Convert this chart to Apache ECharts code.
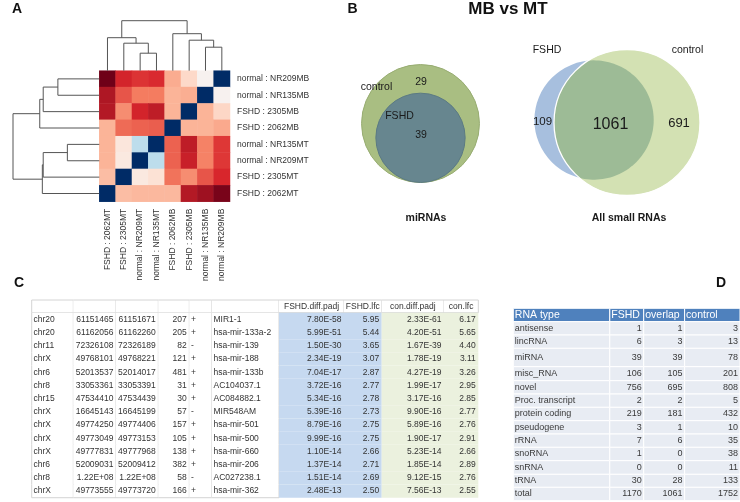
<!DOCTYPE html>
<html><head><meta charset="utf-8">
<script src="https://cdn.jsdelivr.net/npm/echarts@6/dist/echarts.min.js"></script>
<style>html,body{margin:0;padding:0;background:#fff}#c{width:740px;height:502px}</style>
</head><body><div id="c"></div>
<script>
// ================= DATA =================
// Panel A: heatmap
const heatCols = ['FSHD : 2062MT','FSHD : 2305MT','normal : NR209MT','normal : NR135MT','FSHD : 2062MB','FSHD : 2305MB','normal : NR135MB','normal : NR209MB'];
const heatRows = ['normal : NR209MB','normal : NR135MB','FSHD : 2305MB','FSHD : 2062MB','normal : NR135MT','normal : NR209MT','FSHD : 2305MT','FSHD : 2062MT'];
const heatValues = [
  [1.00, 0.905, 0.885, 0.895, 0.715, 0.615, 0.51, 0.00],
  [0.94, 0.845, 0.80, 0.80, 0.70, 0.71, 0.00, 0.51],
  [0.935, 0.77, 0.905, 0.925, 0.70, 0.00, 0.70, 0.62],
  [0.70, 0.82, 0.83, 0.835, 0.00, 0.70, 0.70, 0.72],
  [0.70, 0.57, 0.39, 0.00, 0.83, 0.925, 0.79, 0.88],
  [0.70, 0.555, 0.00, 0.39, 0.83, 0.915, 0.79, 0.88],
  [0.68, 0.00, 0.555, 0.59, 0.81, 0.77, 0.845, 0.90],
  [0.00, 0.68, 0.69, 0.69, 0.69, 0.935, 0.955, 0.99]
];
// dendrograms (hclust style merges: negative = leaf, positive = earlier merge)
const topMerge = [[-3,-4],[-2,1],[-1,2],[-7,-8],[-6,4],[-5,5],[3,6]];
const topHeights = [0.35, 0.55, 0.66, 0.47, 0.61, 0.74, 1.0];
const leftMerge = [[-1,-2],[-3,1],[-4,2],[-5,-6],[-7,4],[-8,5],[3,6]];
const leftHeights = [0.48, 0.65, 0.69, 0.37, 0.65, 0.66, 1.0];

// Panel B: venn counts
const vennNames = ['miRNAs', 'All small RNAs'];
const vennFshdOnly = [0, 109];
const vennBoth = [39, 1061];
const vennControlOnly = [29, 691];

// Panel C: table
const headerC = ['', '', '', '', '', '', 'FSHD.diff.padj', 'FSHD.lfc', 'con.diff.padj', 'con.lfc'];
const chromC = ['chr20','chr20','chr11','chrX','chr6','chr8','chr15','chrX','chrX','chrX','chrX','chr6','chr8','chrX'];
const startC = ['61151465','61162056','72326108','49768101','52013537','33053361','47534410','16645143','49774250','49773049','49777831','52009031','1.22E+08','49773555'];
const endC = ['61151671','61162260','72326189','49768221','52014017','33053391','47534439','16645199','49774406','49773153','49777968','52009412','1.22E+08','49773720'];
const lenC = ['207','205','82','121','481','31','30','57','157','105','138','382','58','166'];
const strandC = ['+','+','-','+','+','+','+','-','+','+','+','+','-','+'];
const nameC = ['MIR1-1','hsa-mir-133a-2','hsa-mir-139','hsa-mir-188','hsa-mir-133b','AC104037.1','AC084882.1','MIR548AM','hsa-mir-501','hsa-mir-500','hsa-mir-660','hsa-mir-206','AC027238.1','hsa-mir-362'];
const fshdPadjC = ['7.80E-58','5.99E-51','1.50E-30','2.34E-19','7.04E-17','3.72E-16','5.34E-16','5.39E-16','8.79E-16','9.99E-16','1.10E-14','1.37E-14','1.51E-14','2.48E-13'];
const fshdLfcC = ['5.95','5.44','3.65','3.07','2.87','2.77','2.78','2.73','2.75','2.75','2.66','2.71','2.69','2.50'];
const conPadjC = ['2.33E-61','4.20E-51','1.67E-39','1.78E-19','4.27E-19','1.99E-17','3.17E-16','9.90E-16','5.89E-16','1.90E-17','5.23E-14','1.85E-14','9.12E-15','7.56E-13'];
const conLfcC = ['6.17','5.65','4.40','3.11','3.26','2.95','2.85','2.77','2.76','2.91','2.66','2.89','2.76','2.55'];

// Panel D: table
const headerD = ['RNA type', 'FSHD', 'overlap', 'control'];
const rnaTypes = ['antisense','lincRNA','miRNA','misc_RNA','novel','Proc. transcript','protein coding','pseudogene','rRNA','snoRNA','snRNA','tRNA','total'];
const fshdCounts = [1, 6, 39, 106, 756, 2, 219, 3, 7, 1, 0, 30, 1170];
const overlapCounts = [1, 3, 39, 105, 695, 2, 181, 1, 6, 0, 0, 28, 1061];
const controlCounts = [3, 13, 78, 201, 808, 5, 432, 10, 35, 38, 11, 133, 1752];

// ================= LAYOUT / STYLE =================
const FONT = '"Liberation Sans", Arial, Helvetica, sans-serif';
const heatColors = ['#002b66','#1c4f8f','#4f86bd','#8ec0dc','#c2e0ee','#f6f3f2','#fde0d2','#fbb498','#f47c60','#d8262c','#6f0018'];

const colEdgesC = [0, 41.6, 84.3, 126.6, 157.6, 180, 247.3, 312.3, 350, 412.3, 446.6];
const alignC = ['left','right','right','right','left','left','right','right','right','right'];
const headRowC = 12.7, rowHC = 13.215;
const rowEdgesC = [0]; for (let i = 0; i <= chromC.length; i++) rowEdgesC.push(headRowC + i * rowHC);

const colEdgesD = [0, 96.7, 130.7, 171.7, 227.2];
const rowHeightsD = [13.4, 13.3, 13.3, 18.4, 14, 13.3, 13.3, 13.4, 13.3, 13.3, 13.4, 13.6, 13, 13.4];
const rowEdgesD = [0]; rowHeightsD.forEach(h => rowEdgesD.push(rowEdgesD[rowEdgesD.length - 1] + h));

const vennLayout = [
  { grid: {left: 349, top: 52, width: 143, height: 143}, half: 10, shift: null,
    ctrlFill: '#a9be82', ctrlStroke: '#98ad72', fshdFill: '#67868f', fshdStroke: '#5b7a83', lensFill: null,
    labels: [
      {t: 'control', p: [-44, -36], s: 10.5},
      {t: 'FSHD', p: [-21, -7.5], s: 10.5},
      {k: 'cOnly', p: [0.5, -41.5], s: 10.5},
      {k: 'both', p: [0.5, 11.5], s: 10.5},
      {t: 'cap', p: [5.5, 94.5], s: 10.5, bold: true}
    ]},
  { grid: {left: 539.8, top: 35.3, width: 174.4, height: 174.4}, half: 50, shift: [-18.9, 1.43],
    ctrlFill: '#d3e1b3', ctrlStroke: '#ffffff', fshdFill: '#a7bfde', fshdStroke: null, lensFill: '#9dbb96',
    labels: [
      {t: 'FSHD', p: [-80, -72.5], s: 10.5},
      {t: 'control', p: [60.5, -72.5], s: 10.5},
      {k: 'fOnly', p: [-84.5, -0.5], s: 11.5},
      {k: 'both', p: [-16.5, 2.5], s: 16},
      {k: 'cOnly', p: [52, 0.5], s: 13},
      {t: 'cap', p: [2, 95.5], s: 10.5, bold: true}
    ]}
];

// ================= HELPERS =================
function dendroSegments(merge, heights, horizontal) {
  const pos = [], segs = [];
  merge.forEach((m, k) => {
    const xy = m.map(c => c < 0 ? [-c - 0.5, 0] : [pos[c - 1], heights[c - 1]]);
    const h = heights[k];
    const pts = [[xy[0][0], xy[0][1]], [xy[0][0], h], [xy[1][0], h], [xy[1][0], xy[1][1]]];
    pos.push((xy[0][0] + xy[1][0]) / 2);
    segs.push({coords: horizontal ? pts.map(p => [p[1], p[0]]) : pts});
  });
  return segs;
}

function txt(text, x, y, size, opts) {
  opts = opts || {};
  return {
    type: 'text', x: 0, y: 0, silent: true,
    style: {
      text: text, x: x, y: y, fill: opts.fill || '#222',
      fontSize: size, fontFamily: FONT, fontWeight: opts.bold ? 'bold' : 'normal',
      align: opts.align || 'center', verticalAlign: 'middle',
      textAlign: opts.align || 'center', textVerticalAlign: 'middle'
    }
  };
}

function lensPoints(c1, r1, c2, r2) {
  const dx = c2[0] - c1[0], dy = c2[1] - c1[1];
  const d = Math.sqrt(dx * dx + dy * dy);
  const a = (r1 * r1 - r2 * r2 + d * d) / (2 * d);
  const a1 = Math.acos(Math.max(-1, Math.min(1, a / r1)));
  const a2 = Math.acos(Math.max(-1, Math.min(1, (d - a) / r2)));
  const t12 = Math.atan2(dy, dx), t21 = Math.atan2(-dy, -dx);
  const pts = [], N = 80;
  for (let i = 0; i <= N; i++) { const t = t12 - a1 + 2 * a1 * i / N; pts.push([c1[0] + r1 * Math.cos(t), c1[1] + r1 * Math.sin(t)]); }
  for (let i = 0; i <= N; i++) { const t = t21 - a2 + 2 * a2 * i / N; pts.push([c2[0] + r2 * Math.cos(t), c2[1] + r2 * Math.sin(t)]); }
  return pts;
}

function vennRenderer(i) {
  return function (params, api) {
    const L = vennLayout[i];
    const counts = {fOnly: vennFshdOnly[i], both: vennBoth[i], cOnly: vennControlOnly[i]};
    const rcU = Math.sqrt(counts.both + counts.cOnly), rfU = Math.sqrt(counts.both + counts.fOnly);
    const cc = api.coord([0, 0]);
    const fU = L.shift ? L.shift : [0, -(rcU - rfU)];
    const fc = api.coord(fU);
    const rc = api.size([rcU, 0])[0], rf = api.size([rfU, 0])[0];
    const ch = [];
    if (L.lensFill) {
      ch.push({type: 'circle', shape: {cx: fc[0], cy: fc[1], r: rf}, style: {fill: L.fshdFill}});
      ch.push({type: 'circle', shape: {cx: cc[0], cy: cc[1], r: rc}, style: {fill: L.ctrlFill}});
      ch.push({type: 'polygon', shape: {points: lensPoints(cc, rc, fc, rf)}, style: {fill: L.lensFill}});
      ch.push({type: 'circle', shape: {cx: cc[0], cy: cc[1], r: rc}, style: {fill: 'none', stroke: L.ctrlStroke, lineWidth: 1.3}});
    } else {
      ch.push({type: 'circle', shape: {cx: cc[0], cy: cc[1], r: rc}, style: {fill: L.ctrlFill, stroke: L.ctrlStroke, lineWidth: 1}});
      ch.push({type: 'circle', shape: {cx: fc[0], cy: fc[1], r: rf}, style: {fill: L.fshdFill, stroke: L.fshdStroke, lineWidth: 1}});
    }
    L.labels.forEach(lb => {
      let t = lb.t;
      if (lb.k) t = String(counts[lb.k]);
      if (t === 'cap') t = vennNames[i];
      ch.push(txt(t, cc[0] + lb.p[0], cc[1] + lb.p[1], lb.s, {bold: lb.bold, fill: '#1a1a1a'}));
    });
    return {type: 'group', children: ch};
  };
}

const colsC = [chromC, startC, endC, lenC, strandC, nameC, fshdPadjC, fshdLfcC, conPadjC, conLfcC];
function renderTableC(params, api) {
  const c = api.value(0), r = api.value(1);
  const p0 = api.coord([colEdgesC[c], rowEdgesC[r]]);
  const p1 = api.coord([colEdgesC[c + 1], rowEdgesC[r + 1]]);
  const ch = [];
  let bg = '#ffffff';
  if (r > 0 && (c === 6 || c === 7)) bg = '#c6d9f0';
  if (r > 0 && (c === 8 || c === 9)) bg = '#ebf1de';
  ch.push({type: 'rect', shape: {x: p0[0], y: p0[1], width: p1[0] - p0[0], height: p1[1] - p0[1]}, style: {fill: bg}});
  const lc = '#d4d4d4';
  if (c === 0) ch.push({type: 'line', shape: {x1: p0[0], y1: p0[1], x2: p0[0], y2: p1[1]}, style: {stroke: lc, lineWidth: 1}});
  if (r === 0 || c <= 5) ch.push({type: 'line', shape: {x1: p1[0], y1: p0[1], x2: p1[0], y2: p1[1]}, style: {stroke: lc, lineWidth: 1}});
  if (r === 0) {
    ch.push({type: 'line', shape: {x1: p0[0], y1: p0[1], x2: p1[0], y2: p0[1]}, style: {stroke: lc, lineWidth: 1}});
    ch.push({type: 'line', shape: {x1: p0[0], y1: p1[1], x2: p1[0], y2: p1[1]}, style: {stroke: lc, lineWidth: 1}});
  }
  if (r === chromC.length && c <= 5) ch.push({type: 'line', shape: {x1: p0[0], y1: p1[1], x2: p1[0], y2: p1[1]}, style: {stroke: lc, lineWidth: 1}});
  const t = r === 0 ? headerC[c] : colsC[c][r - 1];
  if (t) {
    const ym = (p0[1] + p1[1]) / 2;
    if (r === 0) ch.push(txt(t, (p0[0] + p1[0]) / 2, ym, 8.5, {fill: '#333'}));
    else if (alignC[c] === 'left') ch.push(txt(t, p0[0] + 1.8, ym, 8.5, {align: 'left', fill: '#333'}));
    else ch.push(txt(t, p1[0] - 2.5, ym, 8.5, {align: 'right', fill: '#333'}));
  }
  return {type: 'group', children: ch};
}

const colsD = [rnaTypes, fshdCounts, overlapCounts, controlCounts];
function renderTableD(params, api) {
  const c = api.value(0), r = api.value(1);
  const p0 = api.coord([colEdgesD[c], rowEdgesD[r]]);
  const p1 = api.coord([colEdgesD[c + 1], rowEdgesD[r + 1]]);
  const ch = [];
  const bg = r === 0 ? '#4f81bd' : '#e8ecf3';
  ch.push({type: 'rect', shape: {x: p0[0], y: p0[1], width: p1[0] - p0[0], height: p1[1] - p0[1]}, style: {fill: bg, stroke: '#ffffff', lineWidth: 1}});
  const ym = (p0[1] + p1[1]) / 2;
  if (r === 0) ch.push(txt(headerD[c], p0[0] + 1.5, ym + 0.5, 10.5, {align: 'left', fill: '#ffffff'}));
  else {
    const v = String(colsD[c][r - 1]);
    if (c === 0) ch.push(txt(v, p0[0] + 1.5, ym, 9, {align: 'left', fill: '#3a3a3a'}));
    else ch.push(txt(v, p1[0] - 2, ym, 9, {align: 'right', fill: '#3a3a3a'}));
  }
  return {type: 'group', children: ch};
}

// ================= OPTION =================
const heatData = [];
heatValues.forEach((row, r) => row.forEach((v, c) => heatData.push([c, r, v])));
const tableCData = [];
for (let r = 0; r <= chromC.length; r++) for (let c = 0; c < headerC.length; c++) tableCData.push([c, r]);
const tableDData = [];
for (let r = 0; r <= rnaTypes.length; r++) for (let c = 0; c < headerD.length; c++) tableDData.push([c, r]);

const hidden = {show: false};
function valAxis(gi, min, max, inverse) {
  return {type: 'value', gridIndex: gi, min: min, max: max, inverse: !!inverse, show: false, splitLine: hidden, axisLine: hidden, axisTick: hidden, axisLabel: hidden};
}

const option = {
  animation: false,
  backgroundColor: '#ffffff',
  textStyle: {fontFamily: FONT},
  grid: [
    {left: 99.3, top: 70.7, width: 130.7, height: 131},                 // 0 heatmap
    {left: 99.3, top: 20.7, width: 130.7, height: 50},                  // 1 top dendrogram
    {left: 13, top: 70.7, width: 86.3, height: 131},                    // 2 left dendrogram
    vennLayout[0].grid,                                                  // 3 venn miRNA
    vennLayout[1].grid,                                                  // 4 venn all
    {left: 31.7, top: 300, width: 446.6, height: rowEdgesC[rowEdgesC.length - 1]}, // 5 table C
    {left: 513.3, top: 308.3, width: 227.2, height: rowEdgesD[rowEdgesD.length - 1]} // 6 table D
  ],
  xAxis: [
    {type: 'category', gridIndex: 0, data: heatCols, position: 'bottom',
     axisLine: hidden, axisTick: hidden, splitLine: hidden,
     axisLabel: {rotate: 90, interval: 0, margin: 7, fontSize: 8.5, color: '#333', fontFamily: FONT}},
    valAxis(1, 0, 8),
    valAxis(2, 0, 1, true),
    valAxis(3, -vennLayout[0].half, vennLayout[0].half),
    valAxis(4, -vennLayout[1].half, vennLayout[1].half),
    valAxis(5, 0, 446.6),
    valAxis(6, 0, 227.2)
  ],
  yAxis: [
    {type: 'category', gridIndex: 0, data: heatRows, inverse: true, position: 'right',
     axisLine: hidden, axisTick: hidden, splitLine: hidden,
     axisLabel: {interval: 0, margin: 7, fontSize: 8.5, color: '#333', fontFamily: FONT}},
    valAxis(1, 0, 1),
    valAxis(2, 0, 8, true),
    valAxis(3, -vennLayout[0].half, vennLayout[0].half),
    valAxis(4, -vennLayout[1].half, vennLayout[1].half),
    valAxis(5, 0, rowEdgesC[rowEdgesC.length - 1], true),
    valAxis(6, 0, rowEdgesD[rowEdgesD.length - 1], true)
  ],
  visualMap: {type: 'continuous', show: false, seriesIndex: 0, dimension: 2, min: 0, max: 1, inRange: {color: heatColors}},
  series: [
    {type: 'heatmap', xAxisIndex: 0, yAxisIndex: 0, data: heatData, itemStyle: {borderWidth: 0}, emphasis: {disabled: true}, silent: true},
    {type: 'lines', coordinateSystem: 'cartesian2d', xAxisIndex: 1, yAxisIndex: 1, polyline: true, clip: false, silent: true,
     data: dendroSegments(topMerge, topHeights, false), lineStyle: {color: '#555', width: 1, opacity: 1}},
    {type: 'lines', coordinateSystem: 'cartesian2d', xAxisIndex: 2, yAxisIndex: 2, polyline: true, clip: false, silent: true,
     data: dendroSegments(leftMerge, leftHeights, true), lineStyle: {color: '#555', width: 1, opacity: 1}},
    {type: 'custom', coordinateSystem: 'cartesian2d', xAxisIndex: 3, yAxisIndex: 3, clip: false, silent: true, data: [[0, 0]], renderItem: vennRenderer(0)},
    {type: 'custom', coordinateSystem: 'cartesian2d', xAxisIndex: 4, yAxisIndex: 4, clip: false, silent: true, data: [[0, 0]], renderItem: vennRenderer(1)},
    {type: 'custom', coordinateSystem: 'cartesian2d', xAxisIndex: 5, yAxisIndex: 5, clip: false, silent: true, data: tableCData, renderItem: renderTableC},
    {type: 'custom', coordinateSystem: 'cartesian2d', xAxisIndex: 6, yAxisIndex: 6, clip: false, silent: true, data: tableDData, renderItem: renderTableD}
  ],
  graphic: [
    txt('A', 17, 9, 14, {bold: true, fill: '#111'}),
    txt('B', 352.5, 9, 14, {bold: true, fill: '#111'}),
    txt('MB vs MT', 508, 9.5, 17, {bold: true, fill: '#111'}),
    txt('C', 19, 283, 14, {bold: true, fill: '#111'}),
    txt('D', 721, 283, 14, {bold: true, fill: '#111'})
  ]
};

const chart = echarts.init(document.getElementById('c'), null, {renderer: 'canvas'});
chart.setOption(option);
</script>
</body></html>
